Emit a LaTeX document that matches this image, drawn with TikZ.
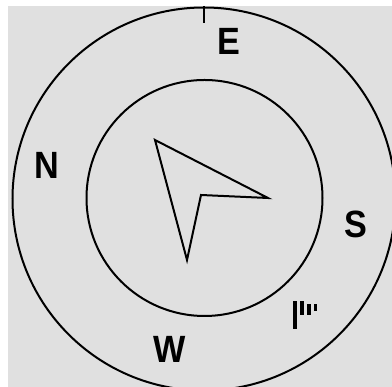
\documentclass[tikz,border=0pt]{standalone}
\usepackage{fontspec}
\setmainfont{Liberation Sans}
\usepackage{xcolor}
\usetikzlibrary{positioning}

\definecolor{dialgray}{RGB}{224,224,224}

\begin{document}
\begin{tikzpicture}[x=1pt, y=1pt, line width=2pt,
    dirlabel/.style={inner sep=0pt, font=\fontsize{38}{38}\selectfont\bfseries,
      xscale=0.9, transform shape}]
  \useasboundingbox (0,0) rectangle (392,387);
  \fill[dialgray] (8,0) rectangle (392,381);
  \begin{scope}
    \clip (8,0) rectangle (392,381);
    % dial rings
    \draw (204,188) circle (191.5);
    \draw (204.5,189) circle (118);
    \draw (204,381) -- (204,364);
  \end{scope}
  % direction letters
  \node[dirlabel] (east)  at (229,346)   {E};
  \node[dirlabel] (north) at (47,222)    {N};
  \node[dirlabel] (south) at (355.5,162.5) {S};
  \node[dirlabel] (west)  at (170,38)    {W};
  % pointer
  \draw[line join=miter] (155,247) -- (268,189) -- (201,192) -- (187,127) -- cycle;
  % small mark
  \fill (293,58) rectangle (297,86);
  \fill (300,72) rectangle (304,86);
  \fill (307,72) rectangle (311,83);
  \fill (314,76) rectangle (317,83);
\end{tikzpicture}
\end{document}
